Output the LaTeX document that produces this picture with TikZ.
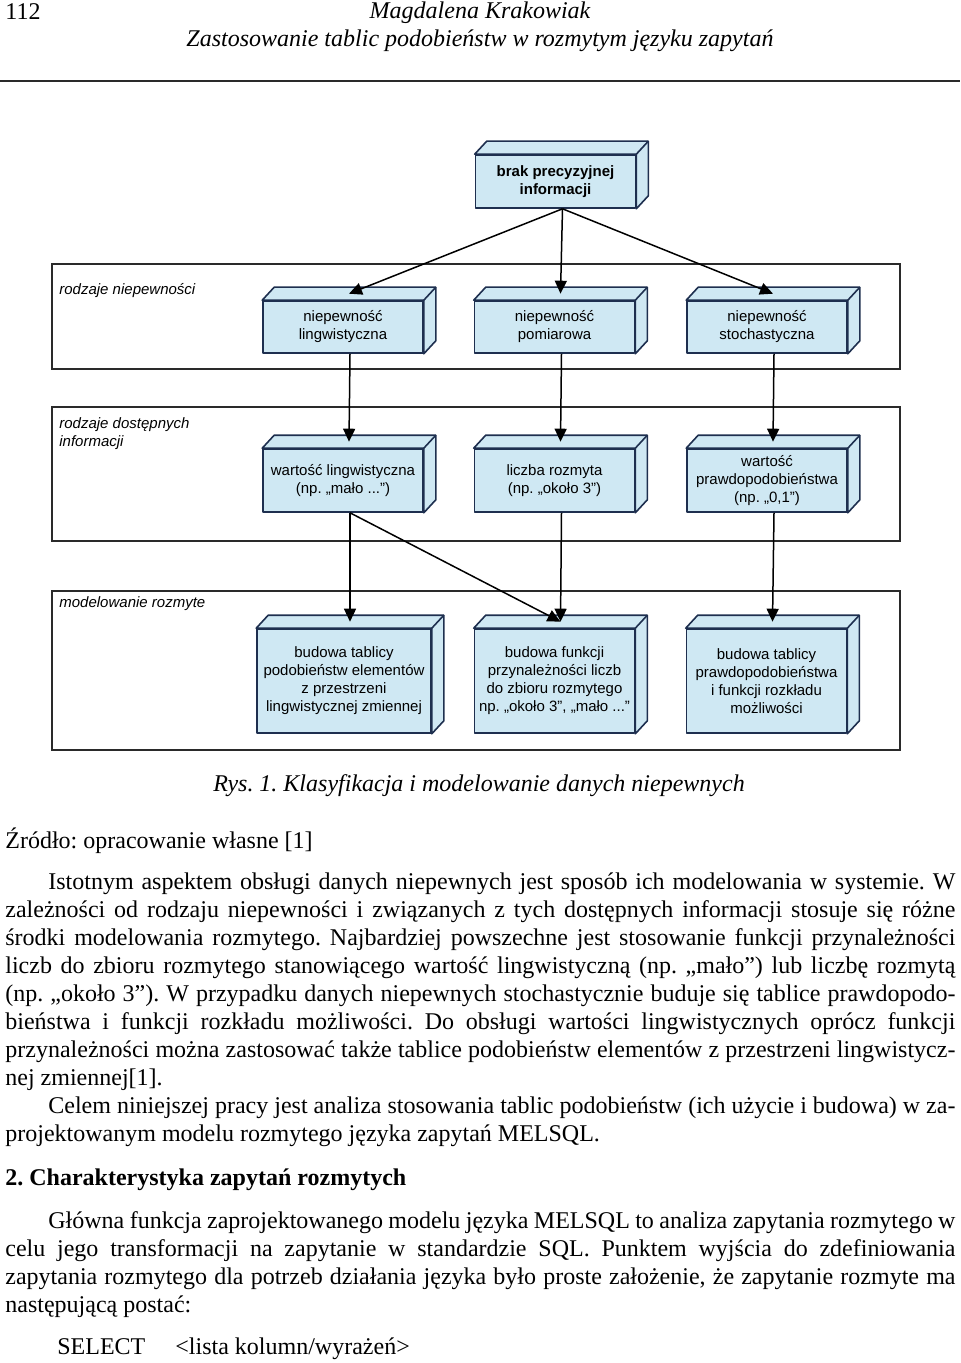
\documentclass[tikz,border=0pt]{standalone}
\usepackage{fontspec}
\setmainfont{Liberation Serif}
\newfontfamily\diagfont{Liberation Sans}
\usetikzlibrary{arrows.meta,calc}
\definecolor{boxfill}{HTML}{CFE8F3}
\definecolor{boxline}{HTML}{1E2F4F}
\definecolor{frameline}{HTML}{2A2A2A}
\frenchspacing
\tikzset{
 cubeline/.style={draw=boxline, fill=boxfill, line width=0.8pt, line join=round},
 cube/.style={cubeline, rectangle, inner sep=0pt, align=center, font=\diagfont\fontsize{7.5}{9}\selectfont, minimum width=80pt},
 conn/.style={draw=black, line width=0.75pt, -{Triangle[length=6.5pt,width=6pt]}},
 frame/.style={draw=frameline, line width=1pt, rectangle, anchor=north west, inner sep=0pt, minimum width=424pt},
 framelabel/.style={anchor=base west, inner sep=0pt, font=\diagfont\itshape\fontsize{7.5}{9}\selectfont},
 bodytext/.style={anchor=base west, inner sep=0pt, font=\fontsize{12}{14}\selectfont},
}
\newcommand\mkdepth[1]{%
 \path[cubeline] (#1.north west) -- ++(12,-13) -- ($(#1.north east)+(12,-13)$) -- ($(#1.south east)+(12,-13)$) -- (#1.south east) -- (#1.north east) -- cycle;
 \draw[cubeline, fill=none] (#1.north east) -- ++(12,-13);
}
\newcommand\jline[5]{\node[bodytext] (#1) at (#2,#3) {\hbox to #4{#5}};}
\begin{document}
\begin{tikzpicture}[x=0.5pt,y=-0.5pt]
\useasboundingbox (0,0) rectangle (960,1363);
% header
\node[bodytext] (hnum) at (5,20) {112};
\node[bodytext, anchor=base, font=\fontsize{12}{14}\selectfont\itshape] (hauth) at (480,19) {Magdalena Krakowiak};
\node[bodytext, anchor=base, font=\fontsize{12}{14}\selectfont\itshape] (htitle) at (480,47) {Zastosowanie tablic podobieństw w rozmytym języku zapytań};
\draw[line width=1pt, draw=frameline] (0,81) -- (960,81);
% containers
\node[frame, minimum height=52.5pt] (c1) at (51,263) {};
\node[frame, minimum height=67pt] (c2) at (51,406) {};
\node[frame, minimum height=79.5pt] (c3) at (51,590) {};
\node[framelabel] (c1l) at (59,295) {rodzaje niepewności};
\node[framelabel, align=left] (c2l) at (59,446) {rodzaje dostępnych\\informacji};
\node[framelabel] (c3l) at (59,607) {modelowanie rozmyte};
% boxes
\node[cube, minimum height=26.5pt, font=\diagfont\bfseries\fontsize{7.5}{9}\selectfont] (top) at (555.5,181.5) {brak precyzyjnej\\informacji};
\node[cube, minimum height=26pt] (b11) at (343,327) {niepewność\\lingwistyczna};
\node[cube, minimum height=26pt] (b12) at (554.5,327) {niepewność\\pomiarowa};
\node[cube, minimum height=26pt] (b13) at (767,327) {niepewność\\stochastyczna};
\node[cube, minimum height=31.5pt] (b21) at (343,480.5) {wartość lingwistyczna\\(np. „mało ...”)};
\node[cube, minimum height=31.5pt] (b22) at (554.5,480.5) {liczba rozmyta\\(np. „około 3”)};
\node[cube, minimum height=31.5pt] (b23) at (767,480.5) {wartość\\prawdopodobieństwa\\(np. „0,1”)};
\node[cube, minimum height=52pt, minimum width=87pt] (b31) at (344,681) {budowa tablicy\\podobieństw elementów\\z przestrzeni\\lingwistycznej zmiennej};
\node[cube, minimum height=52pt] (b32) at (554.5,681) {budowa funkcji\\przynależności liczb\\do zbioru rozmytego\\np. „około 3”, „mało ...”};
\node[cube, minimum height=52pt] (b33) at (766.5,681) {budowa tablicy\\prawdopodobieństwa\\i funkcji rozkładu\\możliwości};
\foreach \n in {top,b11,b12,b13,b21,b22,b23,b31,b32,b33} {\mkdepth{\n}}
% connector end points
\coordinate (ts) at ($(top.south)+(7,0)$);
\foreach \n in {b11,b12,b13,b21,b22,b23,b31,b32,b33} {
  \coordinate (\n t) at ($(\n.north)+(6,-6.5)$);
  \coordinate (\n s) at ($(\n.south)+(7,0)$);
}
% connectors
\draw[conn] (ts) -- (b11t);
\draw[conn] (ts) -- (b12t);
\draw[conn] (ts) -- (b13t);
\draw[conn] (b11s) -- (b21t);
\draw[conn] (b12s) -- (b22t);
\draw[conn] (b13s) -- (b23t);
\draw[conn] (b21s) -- (b31t);
\draw[conn] (b21s) -- (b32t);
\draw[conn] (b22s) -- (b32t);
\draw[conn] (b23s) -- (b33t);
% caption
\node[bodytext, anchor=base, font=\fontsize{12}{14}\selectfont\itshape] (cap) at (479,791) {Rys. 1. Klasyfikacja i modelowanie danych niepewnych};
\node[bodytext] (src) at (5,848) {Źródło: opracowanie własne [1]};
% body
\jline{l1}{48}{889}{453.5pt}{Istotnym aspektem obsługi danych niepewnych jest sposób ich modelowania w systemie. W}
\jline{l2}{5}{917}{475pt}{zależności od rodzaju niepewności i związanych z tych dostępnych informacji stosuje się różne}
\jline{l3}{5}{945}{475pt}{środki modelowania rozmytego. Najbardziej powszechne jest stosowanie funkcji przynależności}
\jline{l4}{5}{973}{475pt}{liczb do zbioru rozmytego stanowiącego wartość lingwistyczną (np. „mało”) lub liczbę rozmytą}
\jline{l5}{5}{1001}{475pt}{(np. „około 3”). W przypadku danych niepewnych stochastycznie buduje się tablice prawdopodo-}
\jline{l6}{5}{1029}{475pt}{bieństwa i funkcji rozkładu możliwości. Do obsługi wartości lingwistycznych oprócz funkcji}
\jline{l7}{5}{1057}{475pt}{przynależności można zastosować także tablice podobieństw elementów z przestrzeni lingwistycz-}
\node[bodytext] (l8) at (5,1085) {nej zmiennej[1].};
\jline{l9}{48}{1113}{453.5pt}{Celem niniejszej pracy jest analiza stosowania tablic podobieństw (ich użycie i budowa) w za-}
\node[bodytext] (l10) at (5,1141) {projektowanym modelu rozmytego języka zapytań MELSQL.};
\node[bodytext, font=\fontsize{12}{14}\selectfont\bfseries] (head) at (5,1185) {2. Charakterystyka zapytań rozmytych};
\jline{l11}{48}{1228}{453.5pt}{Główna funkcja zaprojektowanego modelu języka MELSQL to analiza zapytania rozmytego w}
\jline{l12}{5}{1256}{475pt}{celu jego transformacji na zapytanie w standardzie SQL. Punktem wyjścia do zdefiniowania}
\jline{l13}{5}{1284}{475pt}{zapytania rozmytego dla potrzeb działania języka było proste założenie, że zapytanie rozmyte ma}
\node[bodytext] (l14) at (5,1312) {następującą postać:};
\node[bodytext] (sel1) at (57,1354) {SELECT};
\node[bodytext] (sel2) at (175,1354) {<lista kolumn/wyrażeń>};
\end{tikzpicture}
\end{document}
